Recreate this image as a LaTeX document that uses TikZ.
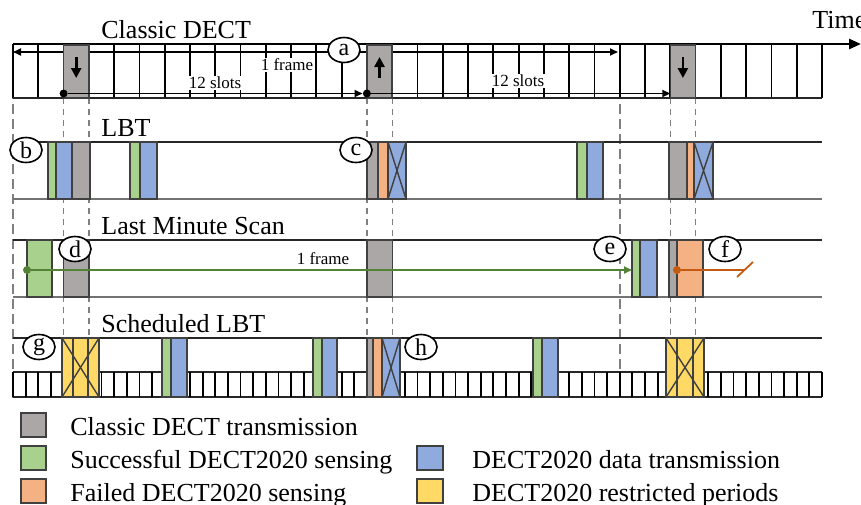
\documentclass[tikz,border=0pt]{standalone}
\usepackage{fontspec}
\setmainfont{Liberation Serif}
\usepackage{tikz}
\usetikzlibrary{shapes, positioning, arrows.meta}

\definecolor{dectgray}{RGB}{171,167,166}
\definecolor{senseok}{RGB}{169,209,142}
\definecolor{datablue}{RGB}{143,170,220}
\definecolor{sensefail}{RGB}{244,177,131}
\definecolor{restrict}{RGB}{255,217,102}
\definecolor{scangreen}{RGB}{84,130,53}
\definecolor{failbrown}{RGB}{197,90,17}

\begin{document}
\begin{tikzpicture}[x=0.5pt, y=-0.5pt,
    every node/.style={font=\fontsize{13}{15}\selectfont},
    tag/.style={ellipse, draw, line width=0.8pt, fill=white, minimum width=16pt, minimum height=12.5pt, inner sep=0pt, font=\fontsize{12}{14}\selectfont},
    rowtitle/.style={anchor=base west, inner sep=0pt},
    small/.style={font=\fontsize{8.5}{10}\selectfont, fill=white, inner sep=0.5pt},
    dot/.style={circle, fill=black, inner sep=0pt, minimum size=4pt},
    slotline/.style={line width=0.9pt},
    rowtop/.style={line width=0.8pt, black!85},
    rowbot/.style={line width=0.8pt, black!55},
    guide/.style={gray, line width=0.6pt, dash pattern=on 3pt off 2.5pt},
    frameguide/.style={gray, line width=1.2pt, dash pattern=on 5pt off 2.5pt},
    box/.style={draw=black!75, line width=0.7pt},
    slotarrow/.style={line width=1.3pt, -{Triangle[length=5pt, width=5pt]}},
    tip/.style={-{Triangle[length=4pt, width=3.5pt]}}]
    \useasboundingbox (0,0) rectangle (861,504);

    % Guides
    \foreach \x in {63.6, 88.9, 366.9, 392.2, 670.3, 695.6}
        \draw[guide] (\x,98) -- (\x,338);
    \foreach \x in {13, 619.7}
        \draw[frameguide] (\x,44) -- (\x,398);

    % Classic DECT
    \node[rowtitle] (t_cl) at (101,38) {Classic DECT};
    \node[anchor=base west, inner sep=0pt] (time) at (812,28) {Time};
    \foreach \i in {0,...,32}
        \draw[slotline] ({13+25.28*\i},44) -- ({13+25.28*\i},98);
    \draw[rowtop] (13,98) -- (822,98);
    \coordinate (tl) at (13,44);
    \coordinate (tr) at (861,44);
    \draw[line width=1.3pt, -{Triangle[length=6pt, width=5pt]}] (tl) -- (tr);
    \coordinate (fl) at (13,52);
    \coordinate (fr) at (618,52);
    \draw[line width=0.9pt, {Triangle[length=4pt, width=3.5pt]}-{Triangle[length=4pt, width=3.5pt]}] (fl) -- (fr);
    \foreach \a in {63.6, 366.9, 670.3}
        \filldraw[box, fill=dectgray] (\a,45) rectangle ({\a+25.28},98);
    \coordinate (dn1a) at (76.2,57);  \coordinate (dn1b) at (76.2,78);
    \coordinate (up1a) at (379.5,78); \coordinate (up1b) at (379.5,57);
    \coordinate (dn2a) at (682.9,57); \coordinate (dn2b) at (682.9,78);
    \draw[slotarrow] (dn1a) -- (dn1b);
    \draw[slotarrow] (up1a) -- (up1b);
    \draw[slotarrow] (dn2a) -- (dn2b);
    \node[small] (frame1) at (287,65) {1 frame};
    \node[small] (slots1) at (215,83) {12 slots};
    \node[small] (slots2) at (518,81) {12 slots};
    \node[dot] (s0) at (63.6,93.5) {};
    \node[dot] (s1) at (366.9,93.5) {};
    \coordinate (s2) at (670.3,93.5);
    \draw[line width=0.9pt, tip] (s0) -- (s1);
    \draw[line width=0.9pt, tip] (s1) -- (s2);
    \node[tag] (a) at (344,50) {a};

    % LBT
    \node[rowtitle] (t_lbt) at (101,136) {LBT};
    \draw[rowtop] (13,142) -- (822,142);
    \draw[rowbot] (13,199) -- (822,199);
    \foreach \a/\b/\c in {48/56/senseok, 56/72/datablue, 72/90/dectgray,
                          130/140/senseok, 140/157/datablue,
                          367/378/dectgray, 378/388/sensefail, 388/406/datablue,
                          577/587/senseok, 587/603/datablue,
                          669/687/dectgray, 687/694/sensefail, 694/713/datablue}
        \filldraw[box, fill=\c] (\a,142) rectangle (\b,199);
    \foreach \a/\b in {388/406, 694/713}
        \draw[box] (\a,142) -- (\b,199) (\a,199) -- (\b,142);
    \node[tag] (b) at (26,150) {b};
    \node[tag] (c) at (356,150) {c};

    % Last Minute Scan
    \node[rowtitle] (t_lms) at (101,234) {Last Minute Scan};
    \draw[rowtop] (13,240) -- (822,240);
    \draw[rowbot] (13,297) -- (822,297);
    \foreach \a/\b/\c in {27/52/senseok, 63.6/88.9/dectgray, 366.9/392.2/dectgray,
                          632/640/senseok, 640/657/datablue,
                          669/677/dectgray, 677/703/sensefail}
        \filldraw[box, fill=\c] (\a,240) rectangle (\b,297);
    \node[small, fill=none] (frame2) at (323,259) {1 frame};
    \node[dot, fill=scangreen] (scan0) at (27,270) {};
    \coordinate (scan1) at (632,270);
    \draw[scangreen, line width=0.9pt, tip] (scan0) -- (scan1);
    \node[dot, fill=failbrown] (fail0) at (677,270) {};
    \coordinate (fail1) at (745,270);
    \coordinate (cut0) at (737,277);
    \coordinate (cut1) at (753,262);
    \draw[failbrown, line width=0.9pt] (fail0) -- (fail1);
    \draw[failbrown, line width=0.9pt] (cut0) -- (cut1);
    \node[tag] (d) at (75,249) {d};
    \node[tag] (e) at (610,249) {e};
    \node[tag] (f) at (725,249) {f};

    % Scheduled LBT
    \node[rowtitle] (t_sch) at (101,332) {Scheduled LBT};
    \draw[rowtop] (13,338) -- (822,338);
    \draw[rowtop] (13,372) -- (822,372);
    \draw[rowtop] (13,397) -- (822,397);
    \foreach \i in {0,...,64}
        \draw[slotline] ({13+12.64*\i},372) -- ({13+12.64*\i},397);
    \foreach \a/\b/\c in {62/99/restrict, 162/171/senseok, 171/187/datablue,
                          313/322/senseok, 322/337/datablue,
                          367/373/dectgray, 373/382/sensefail, 382/400/datablue,
                          533/542/senseok, 542/558/datablue, 666/704/restrict}
        \filldraw[box, fill=\c] (\a,338) rectangle (\b,397);
    \foreach \a/\b in {62/99, 382/400, 666/704}
        \draw[box] (\a,338) -- (\b,397) (\a,397) -- (\b,338);
    \draw[box] (73,338) -- (73,397) (88,338) -- (88,397);
    \draw[box] (677,338) -- (677,397) (693,338) -- (693,397);
    \node[tag] (g) at (39,347) {g};
    \node[tag] (h) at (421,347) {h};

    % Legend
    \filldraw[box, fill=dectgray]  (21,413) rectangle (46,437);
    \filldraw[box, fill=senseok]   (21,446) rectangle (46,470);
    \filldraw[box, fill=sensefail] (21,479) rectangle (46,503);
    \filldraw[box, fill=datablue]  (417,446) rectangle (443,470);
    \filldraw[box, fill=restrict]  (417,479) rectangle (443,503);
    \node[rowtitle] (k_cl) at (70,435) {Classic DECT transmission};
    \node[rowtitle] (k_ok) at (70,468) {Successful DECT2020 sensing};
    \node[rowtitle] (k_fl) at (70,501) {Failed DECT2020 sensing};
    \node[rowtitle] (k_dt) at (472,468) {DECT2020 data transmission};
    \node[rowtitle] (k_rs) at (472,501) {DECT2020 restricted periods};
\end{tikzpicture}
\end{document}
